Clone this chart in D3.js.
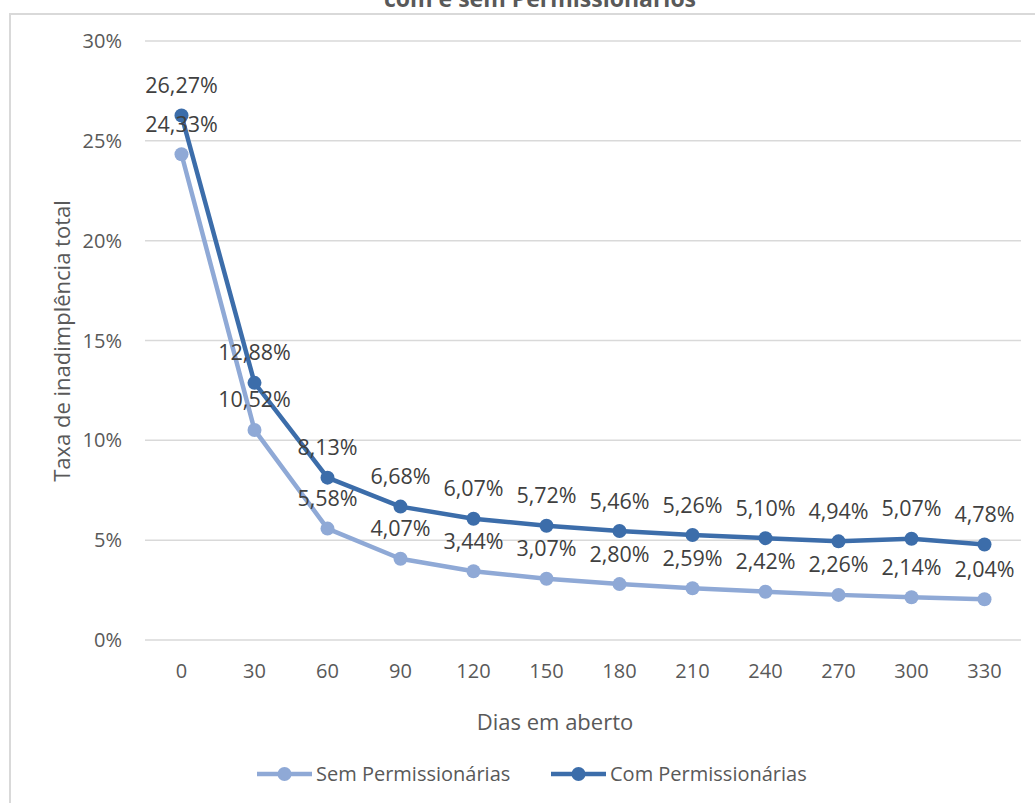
<!DOCTYPE html>
<html><head><meta charset="utf-8">
<script src="https://cdn.jsdelivr.net/npm/d3@7"></script>
<style>html,body{margin:0;padding:0;background:#fff;overflow:hidden}svg{display:block;font-family:"Open Sans",sans-serif}</style>
</head><body><svg id="c" width="1035" height="803"></svg>
<script>
const categories = ["0","30","60","90","120","150","180","210","240","270","300","330"];
const semValues = [24.33,10.52,5.58,4.07,3.44,3.07,2.80,2.59,2.42,2.26,2.14,2.04];
const comValues = [26.27,12.88,8.13,6.68,6.07,5.72,5.46,5.26,5.10,4.94,5.07,4.78];
const yTicks = [0,5,10,15,20,25,30];
const seriesNames = ["Sem Permissionárias","Com Permissionárias"];
const colors = ["#8FA9D6","#3C6DAA"];
const titleText = "com e sem Permissionários";
const xTitle = "Dias em aberto";
const yTitle = "Taxa de inadimplência total";

const svg = d3.select("#c");
svg.append("rect").attr("x",10).attr("y",14).attr("width",1100).attr("height",900)
  .attr("fill","#fff").attr("stroke","#d9d9d9").attr("stroke-width",2);
svg.append("text").attr("x",540).attr("y",7).attr("text-anchor","middle")
  .attr("font-weight","bold").attr("font-size",23).attr("fill","#595959").text(titleText);

const x = d3.scaleBand().domain(categories).range([145,1021]);
const y = d3.scaleLinear().domain([0,30]).range([640,41]);
const fmt = v => v.toFixed(2).replace(".",",")+"%";

svg.append("g").selectAll("line").data(yTicks).join("line")
  .attr("x1",145).attr("x2",1021).attr("y1",d=>y(d)).attr("y2",d=>y(d))
  .attr("stroke","#d9d9d9").attr("stroke-width",1.5);
svg.append("g").selectAll("text").data(yTicks).join("text")
  .attr("x",122).attr("y",d=>y(d)).attr("dy","0.35em").attr("text-anchor","end")
  .attr("font-size",20).attr("fill","#595959").text(d=>d+"%");
svg.append("g").selectAll("text").data(categories).join("text")
  .attr("x",d=>x(d)+x.bandwidth()/2).attr("y",671).attr("dy","0.35em").attr("text-anchor","middle")
  .attr("font-size",20).attr("fill","#595959").text(d=>d);
svg.append("text").attr("x",555).attr("y",722).attr("dy","0.35em").attr("text-anchor","middle")
  .attr("font-size",22).attr("fill","#595959").text(xTitle);
svg.append("text").attr("transform","translate(62,341) rotate(-90)").attr("dy","0.35em").attr("text-anchor","middle")
  .attr("font-size",22).attr("fill","#595959").text(yTitle);

const line = d3.line().x((d,i)=>x(categories[i])+x.bandwidth()/2).y(d=>y(d));
[semValues,comValues].forEach((vals,si)=>{
  const g = svg.append("g");
  g.append("path").datum(vals).attr("d",line).attr("fill","none")
    .attr("stroke",colors[si]).attr("stroke-width",4.5).attr("stroke-linejoin","round");
  g.selectAll("circle").data(vals).join("circle")
    .attr("cx",(d,i)=>x(categories[i])+x.bandwidth()/2).attr("cy",d=>y(d)).attr("r",7)
    .attr("fill",colors[si]);
});
[semValues,comValues].forEach((vals,si)=>{
  svg.append("g").selectAll("text").data(vals).join("text")
    .attr("x",(d,i)=>x(categories[i])+x.bandwidth()/2).attr("y",d=>y(d)-30).attr("dy","0.35em")
    .attr("text-anchor","middle").attr("font-size",21.5).attr("fill","#404040").text(fmt);
});

const legX = [257,551];
seriesNames.forEach((n,i)=>{
  const g = svg.append("g");
  g.append("line").attr("x1",legX[i]).attr("x2",legX[i]+55).attr("y1",774).attr("y2",774)
    .attr("stroke",colors[i]).attr("stroke-width",4.5);
  g.append("circle").attr("cx",legX[i]+27.5).attr("cy",774).attr("r",7).attr("fill",colors[i]);
  g.append("text").attr("x",legX[i]+59).attr("y",774).attr("dy","0.35em")
    .attr("font-size",20).attr("fill","#595959").text(n);
});
</script></body></html>
